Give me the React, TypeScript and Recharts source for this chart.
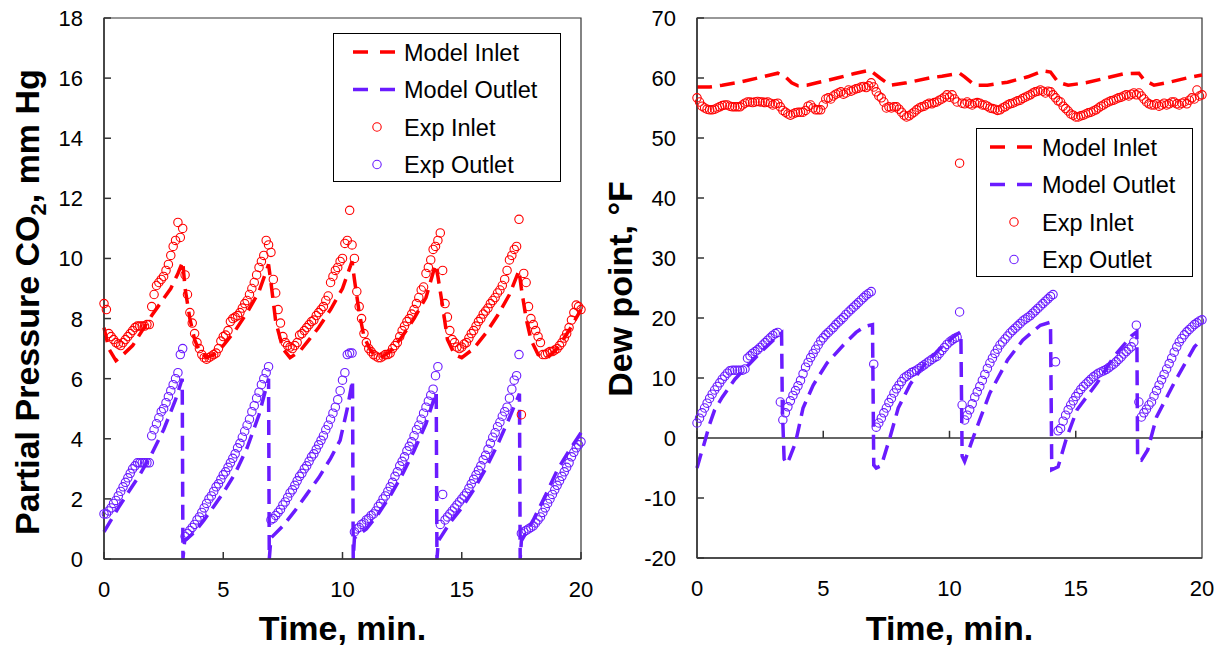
import React from 'react';
import { ComposedChart, Line, Scatter, XAxis, YAxis, ReferenceLine, ReferenceArea, Legend } from 'recharts';

const RED = '#ff0000';
const VIOLET = '#6a1bff';
const AXIS = '#333333';
const FONT = '"Liberation Sans", Arial, Helvetica, sans-serif';

// experimental data logged every 0.1 min, 0 .. 20 min
const SAMPLE_STEP = 0.1;

// left panel: partial pressure CO2, mm Hg
const co2ExpInlet = [
  8.5, 8.3, 7.5, 7.4, 7.3, 7.2, 7.15, 7.1, 7.2, 7.3,
  7.4, 7.5, 7.6, 7.7, 7.75, 7.75, 7.75, 7.75, 7.8, 7.8,
  8.4, 8.8, 9.1, 9.2, 9.3, 9.4, 9.6, 9.8, 10.1, 10.4,
  10.6, 11.2, 10.7, 11.0, 9.45, 8.8, 8.2, 7.85, 7.5, 7.2,
  7.0, 6.8, 6.7, 6.65, 6.7, 6.75, 6.8, 6.85, 7.0, 7.25,
  7.4, 7.45, 7.6, 7.9, 8.0, 8.05, 8.1, 8.2, 8.35, 8.5,
  8.6, 8.8, 9.0, 9.2, 9.45, 9.7, 9.9, 10.1, 10.6, 10.45,
  10.2, 9.3, 8.85, 8.3, 7.85, 7.4, 7.2, 7.1, 7.05, 7.0,
  7.1, 7.2, 7.45, 7.5, 7.6, 7.7, 7.8, 7.9, 7.95, 8.1,
  8.2, 8.3, 8.4, 8.6, 8.75, 9.2, 9.4, 9.6, 9.7, 9.9,
  10.0, 10.5, 10.6, 11.6, 10.45, 10.0, 8.9, 8.4, 8.0, 7.5,
  7.2, 7.0, 6.9, 6.8, 6.75, 6.7, 6.7, 6.75, 6.8, 6.8,
  6.85, 7.0, 7.1, 7.2, 7.4, 7.6, 7.75, 7.9, 8.0, 8.15,
  8.3, 8.5, 8.7, 8.95, 9.05, 9.5, 9.7, 9.95, 10.3, 10.4,
  10.6, 10.85, 9.6, 8.5, 8.05, 7.6, 7.3, 7.2, 7.05, 7.0,
  7.05, 7.15, 7.2, 7.35, 7.5, 7.6, 7.75, 7.9, 8.0, 8.15,
  8.25, 8.35, 8.5, 8.6, 8.7, 8.85, 8.95, 9.1, 9.3, 9.6,
  9.95, 10.1, 10.3, 10.4, 11.3, 4.8, 9.5, 9.2, 8.4, 8.0,
  7.8, 7.6, 7.4, 7.2, 6.8, 6.8, 6.85, 6.9, 6.9, 6.95,
  7.0, 7.1, 7.2, 7.35, 7.5, 7.7, 7.95, 8.2, 8.45, 8.4,
  8.3,
];

const co2ExpOutlet = [
  1.5, 1.5, 1.6, 1.7, 1.85, 1.95, 2.1, 2.25, 2.4, 2.55,
  2.7, 2.85, 3.0, 3.1, 3.2, 3.2, 3.2, 3.2, 3.2, 3.2,
  4.1, 4.3, 4.5, 4.7, 4.9, 5.0, 5.2, 5.4, 5.6, 5.8,
  6.0, 6.2, 6.8, 7.0, 0.75, 0.85, 0.95, 1.05, 1.15, 1.3,
  1.4, 1.55, 1.7, 1.85, 2.0, 2.1, 2.25, 2.4, 2.5, 2.65,
  2.8, 2.9, 3.05, 3.2, 3.35, 3.5, 3.7, 3.85, 4.05, 4.25,
  4.45, 4.65, 4.9, 5.1, 5.35, 5.55, 5.8, 6.0, 6.2, 6.4,
  1.3, 1.35, 1.45, 1.55, 1.65, 1.8, 1.9, 2.05, 2.2, 2.3,
  2.45, 2.6, 2.75, 2.85, 3.0, 3.1, 3.25, 3.4, 3.5, 3.65,
  3.8, 3.95, 4.1, 4.3, 4.45, 4.65, 4.85, 5.05, 5.3, 5.6,
  5.95, 6.2, 6.8, 6.85, 6.85, 0.9, 1.0, 1.05, 1.15, 1.2,
  1.3, 1.35, 1.45, 1.5, 1.6, 1.75, 1.85, 2.0, 2.1, 2.25,
  2.4, 2.55, 2.75, 2.9, 3.1, 3.25, 3.4, 3.6, 3.75, 3.9,
  4.1, 4.3, 4.45, 4.65, 4.85, 5.05, 5.25, 5.45, 5.65, 6.1,
  6.4, 1.15, 2.15, 1.3, 1.4, 1.5, 1.6, 1.7, 1.8, 1.9,
  2.0, 2.1, 2.2, 2.35, 2.5, 2.65, 2.8, 2.95, 3.1, 3.3,
  3.45, 3.65, 3.85, 4.05, 4.2, 4.4, 4.55, 4.75, 4.9, 5.05,
  5.35, 5.65, 5.95, 6.1, 6.8, 0.85, 0.9, 0.95, 1.0, 1.05,
  1.1, 1.2, 1.3, 1.4, 1.55, 1.7, 1.85, 2.0, 2.15, 2.3,
  2.45, 2.6, 2.75, 2.9, 3.05, 3.2, 3.4, 3.55, 3.7, 3.8,
  3.9,
];

// model curves: [time, value]
const co2ModelInlet = [
  [0, 7.7], [0.2, 7.0], [0.5, 6.6], [0.8, 6.8], [1.2, 7.1], [1.6, 7.6], [2.0, 8.1], [2.4, 8.55],
  [2.8, 9.0], [3.1, 9.5], [3.3, 9.9], [3.4, 9.0], [3.6, 8.0], [3.8, 7.3], [4.0, 6.9], [4.3, 6.7],
  [4.6, 6.8], [5.0, 7.1], [5.5, 7.6], [6.0, 8.2], [6.5, 8.9], [6.9, 9.8], [7.0, 9.2], [7.2, 7.9],
  [7.5, 7.0], [7.8, 6.7], [8.2, 6.9], [8.6, 7.3], [9.0, 7.7], [9.5, 8.3], [10.0, 9.0], [10.4, 9.9],
  [10.5, 9.3], [10.7, 8.2], [10.9, 7.4], [11.2, 6.9], [11.6, 6.7], [12.0, 6.9], [12.5, 7.4],
  [13.0, 8.0], [13.5, 8.7], [13.9, 9.8], [14.0, 9.4], [14.2, 8.4], [14.4, 7.3], [14.7, 6.8],
  [15.0, 6.7], [15.5, 7.0], [16.0, 7.5], [16.5, 8.1], [17.0, 8.8], [17.4, 9.6], [17.5, 9.0],
  [17.7, 8.0], [17.9, 7.3], [18.2, 6.8], [18.6, 6.7], [19.0, 7.0], [19.5, 7.6], [20.0, 8.3],
];

const co2ModelOutlet = [
  [0, 0.9], [0.3, 1.3], [0.6, 1.7], [1.0, 2.2], [1.5, 2.8], [2.0, 3.5], [2.5, 4.3], [3.0, 5.3],
  [3.28, 6.0], [3.31, 0], [3.38, 0.6], [3.8, 0.9], [4.2, 1.3], [4.6, 1.75], [5.0, 2.2], [5.5, 2.85],
  [6.0, 3.7], [6.5, 4.8], [6.9, 6.0], [6.93, 0], [7.0, 0.7], [7.5, 1.1], [8.0, 1.6], [8.5, 2.15],
  [9.0, 2.7], [9.5, 3.35], [9.9, 3.95], [10.2, 5.0], [10.42, 5.95], [10.45, 0], [10.5, 0.7],
  [11.0, 1.0], [11.5, 1.5], [12.0, 2.1], [12.5, 2.8], [13.0, 3.6], [13.5, 4.5], [13.93, 5.55],
  [13.96, 0], [14.02, 0.6], [14.5, 1.2], [15.0, 1.7], [15.5, 2.3], [16.0, 3.0], [16.5, 3.8],
  [17.0, 4.7], [17.42, 5.5], [17.45, 0], [17.5, 0.6], [18.0, 1.3], [18.5, 2.1], [19.0, 2.95],
  [19.5, 3.6], [20.0, 4.2],
];

// right panel: dew point, °F
const dewExpInlet = [
  56.7, 56.0, 55.3, 55.0, 54.8, 54.7, 54.7, 54.8, 55.0, 55.2,
  55.4, 55.5, 55.5, 55.3, 55.2, 55.2, 55.2, 55.2, 55.5, 55.8,
  56.0, 56.0, 55.9, 56.0, 56.1, 56.0, 56.0, 55.9, 56.0, 55.8,
  55.5, 55.7, 55.8, 55.2, 54.6, 54.3, 54.0, 53.8, 54.0, 54.2,
  54.3, 54.3, 54.3, 54.6, 55.3, 55.5, 55.0, 54.7, 54.7, 54.7,
  55.5, 56.5, 56.7, 56.5, 57.0, 57.3, 57.5, 57.7, 57.3, 57.5,
  58.0, 57.8, 58.0, 58.2, 58.3, 58.5, 58.6, 58.4, 58.7, 59.2,
  58.5, 57.7, 57.0, 56.7, 56.0, 55.0, 55.2, 55.0, 55.2, 55.2,
  54.8, 54.3, 53.8, 53.5, 53.7, 54.0, 54.3, 54.7, 55.0, 55.2,
  55.3, 55.6, 55.8, 55.7, 55.9, 56.0, 56.3, 56.5, 56.8, 57.2,
  56.8, 57.2, 56.5, 56.0, 45.8, 55.8, 55.7, 56.0, 55.7, 55.5,
  55.8, 55.9, 55.8, 55.5, 55.5, 55.3, 55.0, 54.9, 54.8, 54.6,
  54.7, 55.0, 55.2, 55.5, 55.7, 55.8, 56.0, 56.2, 56.3, 56.6,
  56.8, 57.0, 57.2, 57.5, 57.7, 57.8, 58.0, 57.8, 57.5, 57.8,
  57.7, 57.2, 56.7, 56.2, 56.0, 55.3, 54.9, 54.5, 54.0, 53.8,
  53.5, 53.5, 53.7, 53.8, 54.0, 54.2, 54.3, 54.5, 54.7, 55.0,
  55.3, 55.5, 55.8, 56.0, 56.2, 56.3, 56.5, 56.7, 56.8, 57.0,
  57.2, 57.0, 57.3, 57.5, 57.2, 57.5, 57.0, 56.5, 56.0, 55.7,
  55.5, 55.5, 55.7, 55.3, 55.5, 55.8, 55.5, 55.7, 56.0, 56.0,
  55.7, 55.5, 55.8, 56.0, 55.7, 56.3, 56.7, 56.5, 58.0, 57.0,
  57.2,
];

const dewExpOutlet = [
  2.5, 3.3, 4.2, 5.0, 5.8, 6.6, 7.3, 8.0, 8.6, 9.2,
  9.8, 10.3, 10.8, 11.2, 11.3, 11.3, 11.3, 11.3, 11.3, 11.5,
  13.3, 13.7, 14.1, 14.4, 14.7, 15.1, 15.5, 15.9, 16.3, 16.7,
  17.1, 17.4, 17.6, 6.0, 3.0, 4.2, 5.2, 6.2, 7.1, 7.9,
  8.7, 9.6, 10.7, 11.8, 12.6, 13.4, 14.1, 14.8, 15.5, 16.2,
  16.7, 17.2, 17.6, 18.0, 18.4, 18.9, 19.3, 19.7, 20.1, 20.6,
  21.0, 21.4, 21.8, 22.2, 22.6, 23.0, 23.4, 23.8, 24.1, 24.4,
  12.3, 1.8, 2.5, 3.3, 4.2, 5.0, 5.9, 6.6, 7.5, 8.2,
  8.8, 9.4, 10.0, 10.3, 10.6, 10.9, 11.1, 11.3, 11.6, 11.9,
  12.2, 12.5, 12.8, 13.1, 13.4, 13.6, 14.1, 14.6, 15.1, 15.6,
  16.0, 16.3, 16.6, 16.8, 21.0, 5.5, 3.0, 3.8, 4.7, 5.7,
  6.8, 7.7, 8.6, 9.6, 10.6, 11.6, 12.5, 13.3, 14.1, 14.8,
  15.5, 16.0, 16.5, 17.0, 17.5, 17.9, 18.3, 18.7, 19.1, 19.5,
  19.8, 20.1, 20.4, 20.8, 21.2, 21.6, 22.0, 22.4, 22.8, 23.2,
  23.6, 23.9, 12.7, 1.2, 1.6, 2.8, 3.8, 4.7, 5.5, 6.2,
  6.9, 7.5, 8.1, 8.6, 9.0, 9.4, 9.8, 10.2, 10.5, 10.8,
  11.0, 11.2, 11.4, 11.7, 12.0, 12.3, 12.7, 13.1, 13.5, 14.0,
  14.4, 14.8, 15.2, 16.0, 18.8, 6.0, 3.5, 4.2, 4.8, 5.5,
  6.0, 7.0, 7.9, 8.8, 9.7, 10.6, 11.5, 12.4, 13.3, 14.3,
  15.2, 16.0, 16.6, 17.2, 17.7, 18.1, 18.5, 18.9, 19.2, 19.5,
  19.7,
];

const dewModelInlet = [
  [0, 58.5], [0.5, 58.5], [1.0, 58.8], [1.7, 59.3], [2.3, 59.9], [2.9, 60.5], [3.2, 60.8],
  [3.5, 60.2], [3.75, 59.2], [4.0, 58.7], [4.35, 58.8], [4.75, 59.2], [5.55, 60.0], [6.2, 60.7],
  [6.85, 61.3], [7.25, 60.0], [7.65, 58.8], [8.3, 59.2], [9.2, 60.0], [9.7, 60.3], [10.4, 60.8],
  [10.6, 60.2], [11.0, 58.8], [11.5, 58.8], [12.3, 59.3], [13.1, 60.2], [13.7, 61.2], [14.0, 61.0],
  [14.3, 59.3], [14.7, 58.8], [15.4, 59.2], [16.2, 60.0], [16.9, 60.7], [17.5, 60.8], [17.7, 59.7],
  [18.1, 58.8], [18.6, 59.2], [19.4, 60.0], [20.0, 60.5],
];

const dewModelOutlet = [
  [0, -5.0], [0.15, -2.8], [0.3, -0.7], [0.5, 2.3], [0.7, 4.7], [1.0, 6.8], [1.2, 8.0], [1.5, 9.8],
  [2.0, 12.0], [2.5, 14.2], [3.0, 16.2], [3.35, 17.5], [3.38, 5.0], [3.45, -3.5], [3.55, -4.3],
  [3.65, -3.5], [3.9, -0.8], [4.2, 5.0], [4.6, 8.8], [5.15, 12.5], [5.8, 15.5], [6.3, 17.6],
  [6.65, 18.6], [6.95, 18.9], [7.0, -4.5], [7.1, -5.0], [7.3, -4.6], [7.65, 0.2], [7.97, 5.0],
  [8.45, 9.0], [9.0, 12.2], [9.6, 14.8], [10.2, 17.0], [10.45, 17.7], [10.5, -3.0], [10.6, -3.9],
  [11.0, 0.8], [11.6, 7.5], [12.3, 13.0], [12.9, 16.3], [13.6, 18.8], [14.0, 19.3], [14.05, -5.3],
  [14.3, -4.8], [14.65, 0.2], [15.05, 4.7], [15.85, 9.2], [16.5, 13.5], [17.2, 17.0], [17.42, 17.7],
  [17.45, -3.5], [17.6, -3.7], [17.85, -2.0], [18.2, 3.5], [18.9, 9.2], [19.7, 15.2], [20.0, 16.5],
];

const timeTicks = [0, 5, 10, 15, 20];
const co2Ticks = [0, 2, 4, 6, 8, 10, 12, 14, 16, 18];
const dewTicks = [-20, -10, 0, 10, 20, 30, 40, 50, 60, 70];

const sampled = (vals: number[]) => vals.map((y, i) => ({ x: +(i * SAMPLE_STEP).toFixed(1), y }));
const pairs = (p: number[][]) => p.map(([x, y]) => ({ x, y }));

const ring = (color: string) => (props: any) => (
  <circle cx={props.cx} cy={props.cy} r={4.2} fill="none" stroke={color} strokeWidth={1.1} />
);

function BottomTick({ x, y, payload, inward }: any) {
  return (
    <g>
      {inward && <line x1={x} y1={y} x2={x} y2={y - 7} stroke={AXIS} strokeWidth={1.5} />}
      <text x={x} y={y + 38} textAnchor="middle" fontSize={22} fontFamily={FONT} fill="#000">
        {payload.value}
      </text>
    </g>
  );
}

function LeftTick({ x, y, payload }: any) {
  return (
    <g>
      <line x1={x} y1={y} x2={x + 7} y2={y} stroke={AXIS} strokeWidth={1.5} />
      <text x={x - 21} y={y + 8} textAnchor="end" fontSize={22} fontFamily={FONT} fill="#000">
        {payload.value}
      </text>
    </g>
  );
}

const legendRows = [
  { label: 'Model Inlet', color: RED, dashed: true },
  { label: 'Model Outlet', color: VIOLET, dashed: true },
  { label: 'Exp Inlet', color: RED, dashed: false },
  { label: 'Exp Outlet', color: VIOLET, dashed: false },
];

function LegendBox({ width, symX, textX }: { width: number; symX: number; textX: number }) {
  const height = 149;
  return (
    <svg width={width} height={height} style={{ display: 'block' }}>
      <rect x={0.5} y={0.5} width={width - 1} height={height - 1} fill="#fff" stroke="#000" strokeWidth={1} />
      {legendRows.map((r, i) => {
        const cy = 19 + i * 37.5;
        return (
          <g key={r.label}>
            {r.dashed ? (
              <line x1={symX} y1={cy} x2={symX + 42} y2={cy} stroke={r.color} strokeWidth={3.5} strokeDasharray="15 12" />
            ) : (
              <circle cx={symX + 24} cy={cy} r={4.2} fill="none" stroke={r.color} strokeWidth={1.1} />
            )}
            <text x={textX} y={cy + 8.5} fontSize={23.5} fontFamily={FONT} fill="#000">
              {r.label}
            </text>
          </g>
        );
      })}
    </svg>
  );
}

const titleStyle = { fontFamily: FONT, fontWeight: 700, fontSize: 34, fill: '#000' };

function Co2Chart() {
  return (
    <ComposedChart width={611} height={647} margin={{ top: 18, right: 30, bottom: 58, left: 0 }}>
      <XAxis
        dataKey="x"
        type="number"
        domain={[0, 20]}
        ticks={timeTicks}
        tickSize={0}
        tickMargin={0}
        height={30}
        axisLine={{ stroke: AXIS, strokeWidth: 1.5 }}
        tick={(p: any) => <BottomTick {...p} inward />}
        label={{
          content: () => (
            <text x={342.5} y={640} textAnchor="middle" {...titleStyle}>Time, min.</text>
          ),
        }}
      />
      <YAxis
        dataKey="y"
        type="number"
        domain={[0, 18]}
        ticks={co2Ticks}
        tickSize={0}
        tickMargin={0}
        width={104}
        axisLine={{ stroke: AXIS, strokeWidth: 1.5 }}
        tick={(p: any) => <LeftTick {...p} />}
        label={{
          content: () => (
            <text transform="translate(39,302) rotate(-90)" textAnchor="middle" {...titleStyle}>
              Partial Pressure CO<tspan fontSize={22} dy={7}>2</tspan>
              <tspan dy={-7}>, mm Hg</tspan>
            </text>
          ),
        }}
      />
      <ReferenceArea x1={0} x2={20} y1={0} y2={18} fill="none" stroke={AXIS} strokeWidth={1.2} />
      <Scatter data={sampled(co2ExpInlet)} dataKey="y" shape={ring(RED)} isAnimationActive={false} />
      <Scatter data={sampled(co2ExpOutlet)} dataKey="y" shape={ring(VIOLET)} isAnimationActive={false} />
      <Line data={pairs(co2ModelInlet)} dataKey="y" type="linear" stroke={RED} strokeWidth={3.5}
        strokeDasharray="15 8" dot={false} activeDot={false} isAnimationActive={false} />
      <Line data={pairs(co2ModelOutlet)} dataKey="y" type="linear" stroke={VIOLET} strokeWidth={3.5}
        strokeDasharray="15 8" dot={false} activeDot={false} isAnimationActive={false} />
      <Legend
        layout="vertical"
        align="center"
        verticalAlign="middle"
        wrapperStyle={{ left: 333, top: 33, width: 228 }}
        content={() => <LegendBox width={228} symX={20} textX={71} />}
      />
    </ComposedChart>
  );
}

// right chart svg starts at page x = 591, so its axis column is 106 wide
function DewChart() {
  return (
    <ComposedChart width={631} height={647} margin={{ top: 18, right: 20, bottom: 59, left: 0 }}>
      <XAxis
        dataKey="x"
        type="number"
        domain={[0, 20]}
        ticks={timeTicks}
        tickSize={0}
        tickMargin={0}
        height={30}
        axisLine={{ stroke: AXIS, strokeWidth: 1.5 }}
        tick={(p: any) => <BottomTick {...p} />}
        label={{
          content: () => (
            <text x={358.5} y={640} textAnchor="middle" {...titleStyle}>Time, min.</text>
          ),
        }}
      />
      <YAxis
        dataKey="y"
        type="number"
        domain={[-20, 70]}
        ticks={dewTicks}
        tickSize={0}
        tickMargin={0}
        width={106}
        axisLine={{ stroke: AXIS, strokeWidth: 1.5 }}
        tick={(p: any) => <LeftTick {...p} />}
        label={{
          content: () => (
            <text transform="translate(41,289) rotate(-90)" textAnchor="middle" {...titleStyle}>
              Dew point, °F
            </text>
          ),
        }}
      />
      <ReferenceArea x1={0} x2={20} y1={-20} y2={70} fill="none" stroke={AXIS} strokeWidth={1.2} />
      <ReferenceLine y={0} stroke={AXIS} strokeWidth={1.5} />
      {timeTicks.map((t) => (
        <ReferenceLine key={t} segment={[{ x: t, y: 0 }, { x: t, y: 1.2 }]} stroke={AXIS} strokeWidth={1.5} />
      ))}
      <Scatter data={sampled(dewExpInlet)} dataKey="y" shape={ring(RED)} isAnimationActive={false} />
      <Scatter data={sampled(dewExpOutlet)} dataKey="y" shape={ring(VIOLET)} isAnimationActive={false} />
      <Line data={pairs(dewModelInlet)} dataKey="y" type="linear" stroke={RED} strokeWidth={3.5}
        strokeDasharray="15 8" dot={false} activeDot={false} isAnimationActive={false} />
      <Line data={pairs(dewModelOutlet)} dataKey="y" type="linear" stroke={VIOLET} strokeWidth={3.5}
        strokeDasharray="15 8" dot={false} activeDot={false} isAnimationActive={false} />
      <Legend
        layout="vertical"
        align="center"
        verticalAlign="middle"
        wrapperStyle={{ left: 385, top: 128, width: 217 }}
        content={() => <LegendBox width={217} symX={14} textX={66} />}
      />
    </ComposedChart>
  );
}

export default function App() {
  return (
    <div style={{ position: 'absolute', left: 0, top: 0, width: 1222, height: 647, background: '#fff' }}>
      <div style={{ position: 'absolute', left: 0, top: 0 }}>
        <Co2Chart />
      </div>
      <div style={{ position: 'absolute', left: 591, top: 0 }}>
        <DewChart />
      </div>
    </div>
  );
}
